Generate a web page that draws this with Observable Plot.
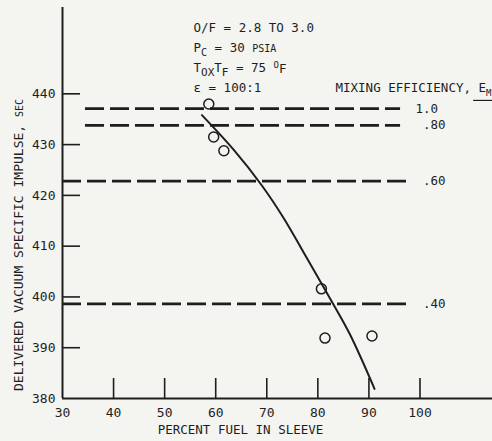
<!DOCTYPE html>
<html>
<head>
<meta charset="utf-8">
<script src="https://cdn.jsdelivr.net/npm/d3@7"></script>
<script src="https://cdn.jsdelivr.net/npm/@observablehq/plot@0.6"></script>
<style>
  html, body { margin: 0; padding: 0; background: #f4f4f1; }
  #chart svg { display: block; }
  #chart text { white-space: pre; }
</style>
</head>
<body>
<div id="chart"></div>
<script>
// ---- data ----
const xTickLabels = [30, 40, 50, 60, 70, 80, 90, 100];
const xTickMarks = [40, 50, 60, 70, 80, 90, 100];
const yTickLabels = [380, 390, 400, 410, 420, 430, 440];
const yTickMarks = [390, 400, 410, 420, 430, 440];

// test points (percent fuel in sleeve, Isp)
const pointFuel = [58.65, 59.6, 61.6, 80.7, 81.4, 90.6];
const pointIsp = [438.0, 431.5, 428.8, 401.6, 391.9, 392.3];

// faired curve
const curveFuel = [57.3, 63.5, 69.0, 73.2, 76.8, 82.5, 86.3, 91.1];
const curveIsp = [435.8, 429.0, 422.0, 415.7, 409.5, 399.5, 392.6, 381.9];

// mixing efficiency reference lines
const effLabels = ["1.0", "\u00a0.80", "\u00a0.60", "\u00a0.40"];
const effIsp = [437.1, 433.8, 422.8, 398.65];
const effStart = [34.5, 34.5, 30, 30];
const effEnd = [96.2, 96.2, 97.7, 97.7];
const effLabelFuel = 99.1;

// annotation text
const annotLines = ["O/F = 2.8 TO 3.0", "PC = 30 PSIA", "TOXTF = 75 OF", "\u03b5 = 100:1"];
const mixTitle = "MIXING EFFICIENCY, EM";
const xTitle = "PERCENT FUEL IN SLEEVE";
const yTitle = "DELIVERED VACUUM SPECIFIC IMPULSE, SEC";
const bracket = {y: 438.7, x1: 110.5, x2: 114.2};

const points = pointFuel.map((x, i) => ({x, y: pointIsp[i]}));
const curve = curveFuel.map((x, i) => ({x, y: curveIsp[i]}));
const eff = effLabels.map((label, i) => ({label, y: effIsp[i], x1: effStart[i], x2: effEnd[i]}));

const ink = "#1e1e1e";
const mono = "'DejaVu Sans Mono', 'Liberation Mono', monospace";

const plot = Plot.plot({
  width: 492,
  height: 441,
  marginLeft: 62,
  marginRight: 0,
  marginTop: 7,
  marginBottom: 43,
  style: {fontFamily: mono, fontSize: "12.5px", color: ink, background: "transparent", overflow: "hidden"},
  x: {domain: [30, 114.2], axis: null},
  y: {domain: [380, 457], axis: null},
  marks: [
    // reference lines
    Plot.ruleY(eff, {y: "y", x1: "x1", x2: "x2", stroke: ink, strokeWidth: 2.8, strokeDasharray: "19,6"}),
    Plot.text(eff, {x: () => effLabelFuel, y: "y", text: "label", textAnchor: "start", fill: ink}),
    // axes
    Plot.ruleX([30], {stroke: ink, strokeWidth: 2}),
    Plot.ruleY([380], {stroke: ink, strokeWidth: 2}),
    Plot.axisY({ticks: yTickMarks, tickSize: -18, text: null, label: null, strokeWidth: 1.6, stroke: ink}),
    Plot.axisX({ticks: xTickMarks, tickSize: -20, text: null, label: null, strokeWidth: 1.6, stroke: ink}),
    Plot.axisY({ticks: yTickLabels, tickSize: 0, tickPadding: 7, tickFormat: d => String(d), fontSize: 13, fill: ink, label: null}),
    Plot.axisX({ticks: xTickLabels, tickSize: 0, tickPadding: 9, tickFormat: d => String(d), fontSize: 13, fill: ink, label: null}),
    // curve and points
    Plot.line(curve, {x: "x", y: "y", curve: "catmull-rom", stroke: ink, strokeWidth: 2}),
    Plot.dot(points, {x: "x", y: "y", r: 5, stroke: ink, strokeWidth: 1.5, fill: "none"}),
    // titles
    Plot.text([xTitle], {frameAnchor: "bottom", dx: -37, dy: 35, fill: ink, fontSize: 12.5}),
    Plot.text([yTitle], {frameAnchor: "left", textAnchor: "middle", rotate: -90, dx: -44, dy: 42, fill: ink, fontSize: 13}),
    // annotation block
    ...annotLines.map((s, i) => Plot.text([s], {frameAnchor: "top-left", textAnchor: "start", dx: 131, dy: 16 + i * 20, fill: ink, fontSize: 12.5})),
    Plot.text([mixTitle], {frameAnchor: "top-left", textAnchor: "start", dx: 273, dy: 76, fill: ink, fontSize: 12.5}),
    Plot.ruleY([bracket], {y: "y", x1: "x1", x2: "x2", stroke: ink, strokeWidth: 1.2})
  ]
});

document.getElementById("chart").appendChild(plot);

// rich text: subscripts / superscripts / small caps
const rich = {
  "PC = 30 PSIA": [{t: "P"}, {t: "C", size: 10, shift: 4}, {t: " = 30 "}, {t: "PSIA", size: 10}],
  "TOXTF = 75 OF": [{t: "T"}, {t: "OX", size: 11, shift: 4}, {t: "T"}, {t: "F", size: 11, shift: 4}, {t: " = 75 "}, {t: "O", size: 9, shift: -4}, {t: "F", size: 12.5, shift: 1}],
  "MIXING EFFICIENCY, EM": [{t: "MIXING EFFICIENCY, E"}, {t: "M", size: 9, shift: 4}],
  "DELIVERED VACUUM SPECIFIC IMPULSE, SEC": [{t: "DELIVERED VACUUM SPECIFIC IMPULSE, "}, {t: "SEC", size: 10}]
};
d3.select(plot).selectAll("text").each(function () {
  const parts = rich[this.textContent];
  if (!parts) return;
  const el = d3.select(this);
  el.text(null);
  let cur = 0;
  for (const p of parts) {
    const ts = el.append("tspan").text(p.t);
    if (p.size) ts.attr("font-size", p.size);
    const s = p.shift || 0;
    if (s !== cur) { ts.attr("dy", s - cur); cur = s; }
  }
});
</script>
</body>
</html>
